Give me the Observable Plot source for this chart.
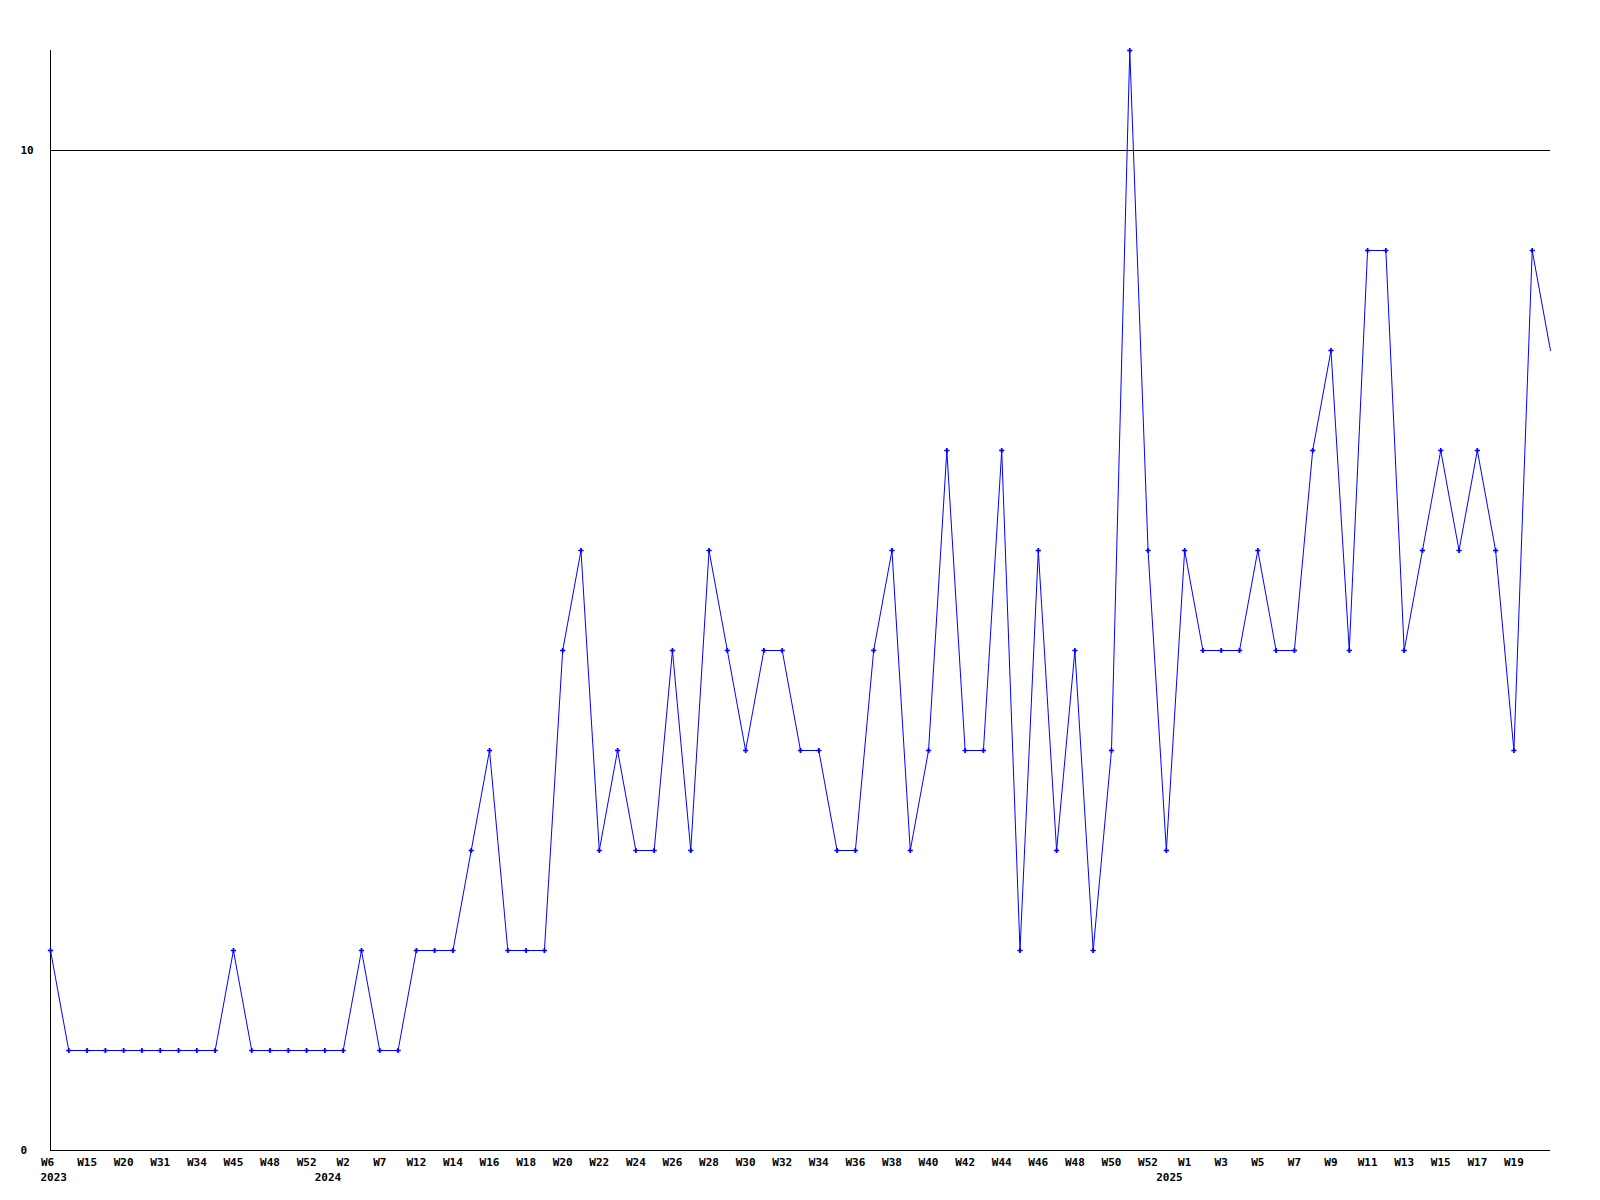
<!DOCTYPE html>
<html>
<head>
<meta charset="utf-8">
<script src="https://cdn.jsdelivr.net/npm/d3@7"></script>
<script src="https://cdn.jsdelivr.net/npm/@observablehq/plot@0.6"></script>
<style>
  html, body { margin: 0; padding: 0; background: #ffffff; }
</style>
</head>
<body>
<div id="chart"></div>
<script>
// Week labels for every point (only every second one is shown as a tick label)
const weeks = [
  "W6","W10","W15","W17","W20","W26","W31","W33","W34","W40",
  "W45","W47","W48","W50","W52","W1","W2","W5","W7","W9",
  "W12","W13","W14","W15","W16","W17","W18","W19","W20","W21",
  "W22","W23","W24","W25","W26","W27","W28","W29","W30","W31",
  "W32","W33","W34","W35","W36","W37","W38","W39","W40","W41",
  "W42","W43","W44","W45","W46","W47","W48","W49","W50","W51",
  "W52","W53","W1","W2","W3","W4","W5","W6","W7","W8",
  "W9","W10","W11","W12","W13","W14","W15","W16","W17","W18",
  "W19","W20","W21"
];
const values = [
  2,1,1,1,1,1,1,1,1,1,
  2,1,1,1,1,1,1,2,1,1,
  2,2,2,3,4,2,2,2,5,6,
  3,4,3,3,5,3,6,5,4,5,
  5,4,4,3,3,5,6,3,4,7,
  4,4,7,2,6,3,5,2,4,11,
  6,3,6,5,5,5,6,5,5,7,
  8,5,9,9,5,6,7,6,7,6,
  4,9,8
];
const yearLabels = ["2023","2024","2025"];
const yearIndex = [0, 16, 62];
const yTicks = [0, 10];

const data = weeks.map((w, i) => ({i, w, v: values[i]}));
const years = yearLabels.map((y, k) => ({i: yearIndex[k], y}));
const last = weeks.length - 1;
const tickData = data.filter(d => d.i % 2 === 0 && d.i < last);

const font = {fontFamily: "DejaVu Sans Mono", fontSize: 11, fontWeight: "bold", fill: "black"};

const chart = Plot.plot({
  width: 1600,
  height: 1200,
  marginLeft: 50,
  marginRight: 50,
  marginTop: 50,
  marginBottom: 50,
  x: {domain: [0, last], axis: null},
  y: {domain: [0, 11], axis: null},
  style: {background: "white"},
  marks: [
    Plot.ruleY([10], {stroke: "black", strokeWidth: 1}),
    Plot.ruleY([0], {stroke: "black", strokeWidth: 1}),
    Plot.ruleX([0], {y1: 0, y2: 11, stroke: "black", strokeWidth: 1}),
    Plot.line(data, {x: "i", y: "v", stroke: "#0000ff", strokeWidth: 1}),
    Plot.dot(data.slice(0, -1), {x: "i", y: "v", symbol: "cross", r: 2.2, fill: "#0000ff", stroke: null}),
    Plot.text(tickData.filter(d => d.i === 0), {
      x: "i", y: () => 0, text: "w", dy: 12, dx: -3, textAnchor: "middle", ...font
    }),
    Plot.text(tickData.filter(d => d.i !== 0), {
      x: "i", y: () => 0, text: "w", dy: 12, dx: 0, textAnchor: "middle", ...font
    }),
    Plot.text(years.filter(d => d.i === 0), {
      x: "i", y: () => 0, text: "y", dy: 27, textAnchor: "start", dx: -10, ...font
    }),
    Plot.text(years.filter(d => d.i !== 0), {
      x: "i", y: () => 0, text: "y", dy: 27, textAnchor: "end", dx: -2, ...font
    }),
    Plot.text(yTicks, {
      x: () => 0, y: d => d, text: d => String(d), textAnchor: "start", dx: -30, ...font
    })
  ]
});
document.getElementById("chart").appendChild(chart);
</script>
</body>
</html>
